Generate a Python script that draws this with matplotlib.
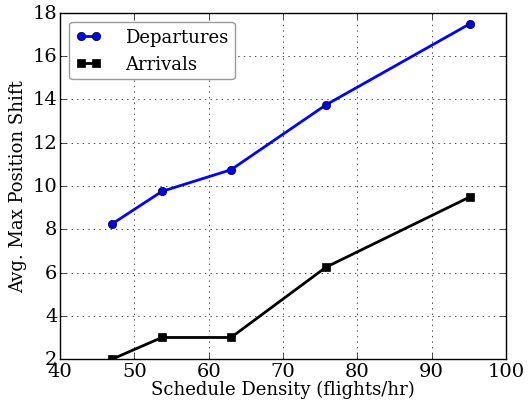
import matplotlib
matplotlib.use('Agg')
import matplotlib.pyplot as plt

density = [47.0, 53.7, 63.0, 75.8, 95.2]
departures = [8.25, 9.75, 10.75, 13.75, 17.5]
arrivals = [2.0, 3.0, 3.0, 6.25, 9.5]

plt.style.use('classic')
plt.rcParams['font.family'] = 'DejaVu Serif'

fig = plt.figure(figsize=(5.28, 4.06), dpi=100)
ax = fig.add_axes([0.114, 0.113, 0.844, 0.853])

ax.plot(density, departures, 'o-b', lw=2, ms=6, label='Departures')
ax.plot(density, arrivals, 's-k', lw=2, ms=6, label='Arrivals')

ax.set_xlim(40, 100)
ax.set_ylim(2, 18)
ax.tick_params(labelsize=14, pad=2)
ax.set_xlabel('Schedule Density (flights/hr)', fontsize=13, labelpad=0)
ax.set_ylabel('Avg. Max Position Shift', fontsize=13, labelpad=4)
ax.grid(True)
leg = ax.legend(loc='upper left', fancybox=True, fontsize=13, handlelength=1.45,
                borderaxespad=0.5, handletextpad=1.3, borderpad=0.35)
leg.get_frame().set_edgecolor('0.6')

fig.savefig('out.png', dpi=100)
